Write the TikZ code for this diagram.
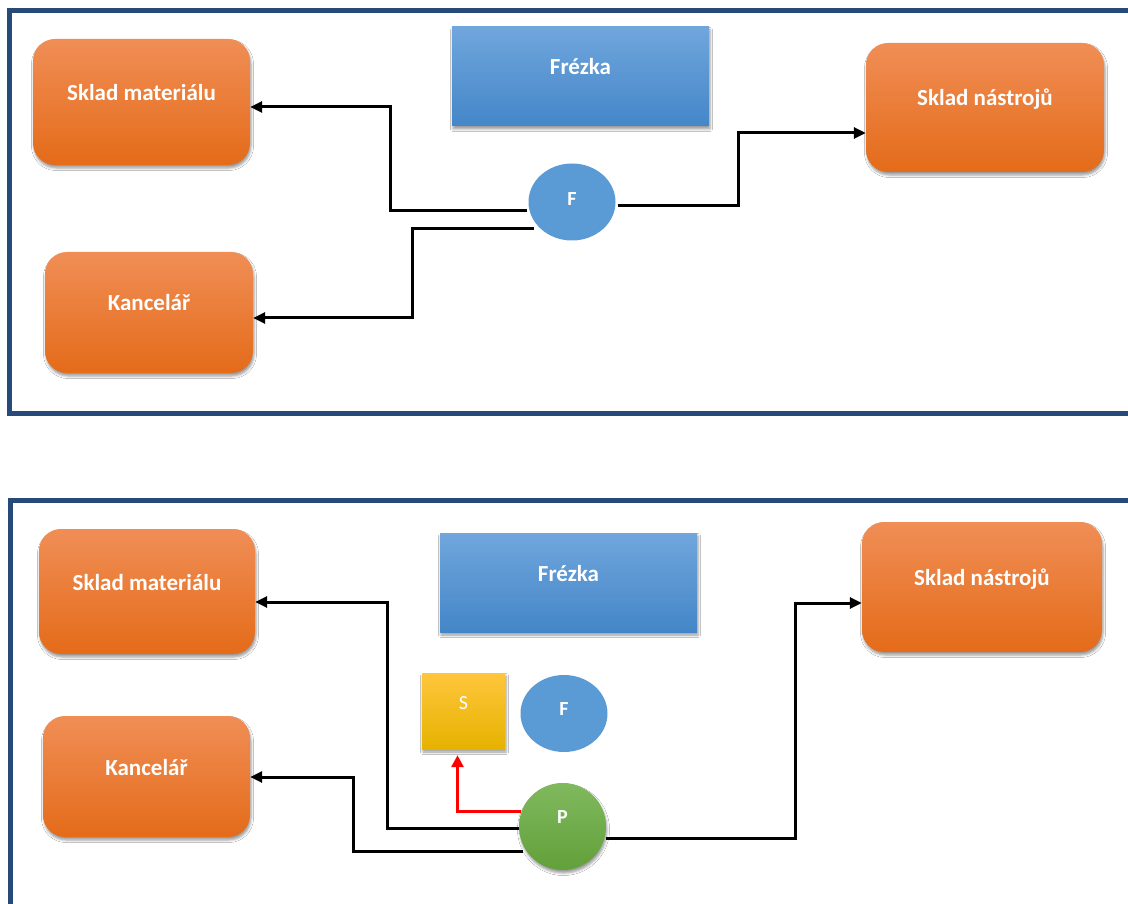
\documentclass[tikz,border=0pt]{standalone}
\usepackage{fontspec}
\setmainfont{Carlito}
\usetikzlibrary{arrows.meta,backgrounds,shadows.blur,shapes.geometric}

\definecolor{frameblue}{RGB}{38,74,122}
\definecolor{orTop}{RGB}{240,142,86}
\definecolor{orMid}{RGB}{244,125,40}
\definecolor{orBot}{RGB}{228,107,25}
\definecolor{blTop}{RGB}{112,166,220}
\definecolor{blMid}{RGB}{84,150,215}
\definecolor{blBot}{RGB}{68,134,200}
\definecolor{fblue}{RGB}{91,155,213}
\definecolor{ylTop}{RGB}{255,198,60}
\definecolor{ylMid}{RGB}{252,192,0}
\definecolor{ylBot}{RGB}{230,178,0}
\definecolor{grTop}{RGB}{128,185,94}
\definecolor{grBot}{RGB}{98,160,58}

\tikzset{
  softshadow/.style={blur shadow={shadow xshift=1pt, shadow yshift=-3pt,
      shadow opacity=40, shadow blur radius=2.5pt}},
  label font/.style={text=white, font=\fontsize{23}{27}\selectfont\bfseries},
  place/.style={rounded corners=22pt, inner sep=0pt, label font,
      text height=16pt, text depth=19pt,
      top color=orTop, middle color=orMid, bottom color=orBot, softshadow},
  machine/.style={rectangle, inner sep=0pt, label font,
      minimum width=257pt, minimum height=99pt,
      text height=16pt, text depth=19pt,
      top color=blTop, middle color=blMid, bottom color=blBot, softshadow},
  tool/.style={ellipse, inner sep=0pt, fill=fblue,
      text=white, font=\fontsize{20}{24}\selectfont\bfseries,
      minimum width=87pt, minimum height=77pt},
  stand/.style={rectangle, inner sep=0pt, text=white,
      font=\fontsize{20}{24}\selectfont,
      minimum width=83pt, minimum height=76pt,
      text height=12pt, text depth=15pt,
      top color=ylTop, middle color=ylMid, bottom color=ylBot, softshadow},
  worker/.style={circle, inner sep=0pt, minimum size=87pt,
      text=white, font=\fontsize{20}{24}\selectfont\bfseries,
      text height=12pt, text depth=18pt,
      top color=grTop, bottom color=grBot, softshadow},
  frame/.style={draw=frameblue, line width=5pt},
  conn/.style={line width=3pt, -{Triangle[length=12pt,width=11pt]}},
  redconn/.style={conn, draw=red, -{Triangle[length=12pt,width=12pt,fill=red]}},
}

\begin{document}
\begin{tikzpicture}[x=1pt,y=-1pt]
  \useasboundingbox (0,0) rectangle (1128,904);
  \clip (0,0) rectangle (1128,904);

  % ---------- upper layout ----------
  \node[place, minimum width=217pt, minimum height=126pt] (sm1) at (141.5,102) {Sklad materiálu};
  \node[place, minimum width=208pt, minimum height=121pt] (k1) at (149,312.5) {Kancelář};
  \node[machine] (fr1) at (580.5,76.5) {Frézka};
  \node[place, minimum width=238pt, minimum height=129pt] (sn1) at (985,107.5) {Sklad nástrojů};
  \node[tool, text height=12pt, text depth=5pt] (f1) at (572,202) {F};

  % ---------- lower layout ----------
  \node[place, minimum width=216pt, minimum height=125pt] (sm2) at (147,591.5) {Sklad materiálu};
  \node[place, minimum width=207pt, minimum height=121pt] (k2) at (146.5,776.5) {Kancelář};
  \node[machine] (fr2) at (568.5,582.5) {Frézka};
  \node[place, minimum width=240pt, minimum height=130pt] (sn2) at (982,587) {Sklad nástrojů};
  \node[stand] (s) at (463.5,711) {S};
  \node[tool, text height=12pt, text depth=8pt] (f2) at (564,713.5) {F};
  \node[worker] (p) at (562.5,826.5) {P};

  \begin{scope}[on background layer]
    \fill[white] (0,0) rectangle (1128,904);
    % panel frames (right and lower sides run off the page)
    \draw[frame] (9.5,10.5) rectangle (1140,413.5);
    \draw[frame] (10.5,500.5) rectangle (1140,906.5);

    % routes of the milling operator
    \draw[conn] ([shift={(-1,9)}]f1.west) -| (390,107) -- ([yshift=-5pt]sm1.east);
    \draw[conn] ([shift={(6,27)}]f1.west) -| (412,318) -- ([yshift=-5.5pt]k1.east);
    \draw[conn] ([shift={(2,4)}]f1.east) -| (738,133) -- ([yshift=-25.5pt]sn1.west);

    % routes of the worker
    \draw[redconn] ([shift={(2,-15)}]p.west) -| ([shift={(-6,6)}]s.south);
    \draw[conn] ([shift={(2,1.5)}]p.west) -| (387,602) -- ([yshift=-10.5pt]sm2.east);
    \draw[conn] ([shift={(4,24.5)}]p.west) -| (353,777) -- ([yshift=-0.5pt]k2.east);
    \draw[conn] ([shift={(0,11.5)}]p.east) -| (795,603) -- ([yshift=-16pt]sn2.west);
  \end{scope}
\end{tikzpicture}
\end{document}
